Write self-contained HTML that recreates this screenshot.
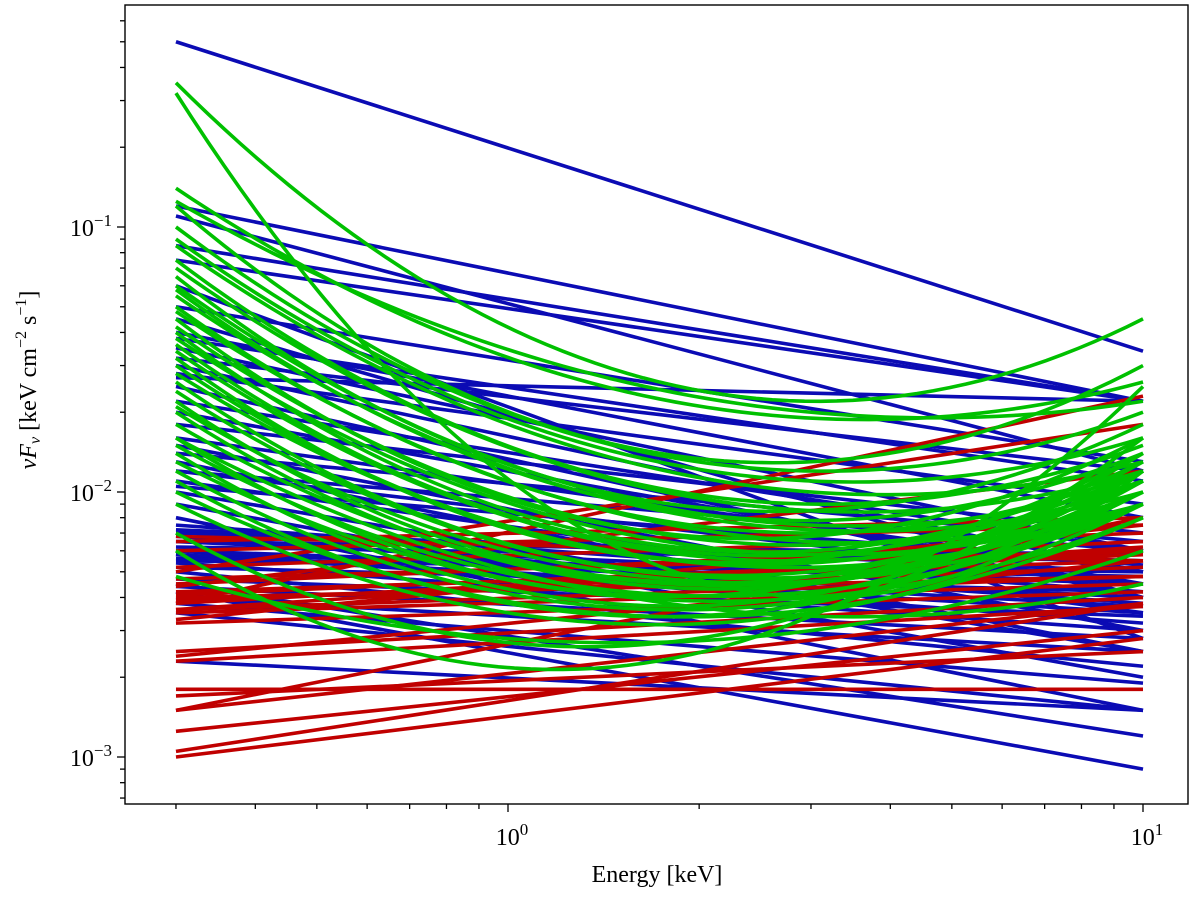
<!DOCTYPE html>
<html><head><meta charset="utf-8"><style>
html,body{margin:0;padding:0;background:#fff;}
svg text{font-family:"Liberation Serif","DejaVu Serif",serif;fill:#000;}
</style></head><body>
<svg id="chart" width="1200" height="899" xmlns="http://www.w3.org/2000/svg">
<defs><clipPath id="clip"><rect x="125" y="5" width="1063" height="799"/></clipPath></defs>
<rect x="0" y="0" width="1200" height="899" fill="#fff"/>
<g id="series" clip-path="url(#clip)"></g>
<rect x="125" y="5" width="1063" height="799" fill="none" stroke="#000" stroke-width="1.4"/>
<g id="axes"></g>
<text x="657" y="882" font-size="24" text-anchor="middle">Energy [keV]</text>
<text transform="translate(36,380) rotate(-90)" font-size="24" text-anchor="middle"><tspan font-style="italic">ν</tspan><tspan font-style="italic">F</tspan><tspan font-style="italic" font-size="16" dy="4">ν</tspan><tspan dy="-4"> [keV cm</tspan><tspan font-size="16" dy="-10">−2</tspan><tspan dy="10"> s</tspan><tspan font-size="16" dy="-10">−1</tspan><tspan dy="10">]</tspan></text>
</svg>
<script>
const xTicks = [1, 10];
const xTickExp = ["0", "1"];
const yTicks = [0.1, 0.01, 0.001];
const yTickExp = ["−1", "−2", "−3"];
const eStart = 0.3, eMid = 3, eEnd = 10;
// blue power laws: flux at 0.3 keV and 10 keV
const blueStart = [0.50,0.12,0.085,0.075,0.11,0.027,0.05,0.04,0.035,0.03,0.025,0.02,0.015,0.013,0.012,0.011,0.010,0.009,0.008,0.0075,0.007,0.006,0.006,0.0055,0.005,0.0045,0.0042,0.0038,0.0035,0.0023,0.06,0.045,0.014,0.0065,0.0058,
  0.0065,0.006,0.0058,0.0056,0.0054,0.0062,0.0052,0.0068,0.0072,0.0047,0.0044,0.004,0.016,0.018,0.022,0.028,0.032,0.038,0.012,0.0105];
const blueEnd   = [0.034,0.022,0.022,0.022,0.012,0.022,0.013,0.008,0.006,0.005,0.004,0.0045,0.003,0.0025,0.006,0.0035,0.0025,0.002,0.0015,0.0042,0.0055,0.0045,0.0032,0.005,0.0022,0.0012,0.0009,0.0019,0.0015,0.0015,0.0028,0.004,0.0065,0.0058,0.0037,
  0.0045,0.004,0.0035,0.0048,0.003,0.0055,0.0042,0.0038,0.005,0.0034,0.0028,0.0025,0.005,0.007,0.006,0.009,0.012,0.011,0.0045,0.0053];
// red power laws
const redStart = [0.0068,0.0065,0.006,0.0052,0.0045,0.0042,0.004,0.0038,0.0035,0.0033,0.0032,0.0025,0.0024,0.0023,0.0018,0.0017,0.0015,0.0015,0.00125,0.00105,0.001,0.0038,0.005,0.0044,0.0036,0.0036,0.0041,0.0047,0.0039];
const redEnd   = [0.0055,0.008,0.0075,0.007,0.0065,0.0055,0.0048,0.006,0.0045,0.0075,0.0042,0.004,0.0055,0.0037,0.0018,0.0025,0.008,0.0038,0.003,0.0038,0.0028,0.023,0.018,0.012,0.0048,0.0062,0.0058,0.006,0.0052];
// green curved models: flux at 0.3, 3 and 10 keV
const greenStart = [0.35,0.32,0.14,0.125,0.12,0.10,0.09,0.085,0.075,0.07,0.065,0.06,0.058,0.055,0.05,0.048,0.045,0.042,0.04,0.038,0.036,0.034,0.032,0.03,0.028,0.026,0.024,0.022,0.021,0.02,0.018,0.016,0.015,0.014,0.013,0.012,0.011,0.010,0.009,0.007,0.0048,0.006,0.016];
const greenMid   = [0.022,0.004,0.019,0.02,0.013,0.012,0.011,0.010,0.009,0.0085,0.0085,0.0075,0.0078,0.0072,0.007,0.0065,0.0068,0.0063,0.006,0.0058,0.0058,0.0055,0.0056,0.0054,0.0052,0.005,0.0048,0.0048,0.0046,0.0045,0.0046,0.0045,0.0042,0.0041,0.004,0.0039,0.0038,0.0036,0.0035,0.0035,0.003,0.0034,0.0034];
const greenEnd   = [0.045,0.012,0.026,0.022,0.030,0.020,0.016,0.013,0.015,0.012,0.018,0.011,0.014,0.010,0.012,0.009,0.016,0.011,0.013,0.009,0.012,0.010,0.014,0.011,0.009,0.012,0.010,0.013,0.009,0.011,0.010,0.014,0.009,0.012,0.008,0.010,0.011,0.008,0.009,0.016,0.006,0.025,0.0045];

const NS = "http://www.w3.org/2000/svg";
function xPos(e){ return 508 + 635*Math.log10(e); }
function yPos(v){ return 227 - 265*(Math.log10(v)+1); }
const series = document.getElementById('series');
const axes = document.getElementById('axes');

function addPath(d, color, name){
  const p = document.createElementNS(NS,'path');
  p.setAttribute('d', d);
  p.setAttribute('stroke', color);
  p.setAttribute('stroke-width', '3.6');
  p.setAttribute('fill', 'none');
  
  
  series.appendChild(p);
}
blueStart.forEach((s,i)=>{
  addPath(`M${xPos(eStart)},${yPos(s)} L${xPos(eEnd)},${yPos(blueEnd[i])}`, '#0b0bb4', 'blue-line-'+i);
});
redStart.forEach((s,i)=>{
  addPath(`M${xPos(eStart)},${yPos(s)} L${xPos(eEnd)},${yPos(redEnd[i])}`, '#c00000', 'red-line-'+i);
});
const l0 = Math.log10(eStart), l1 = Math.log10(eMid), l2 = Math.log10(eEnd);
greenStart.forEach((s,i)=>{
  const y0 = Math.log10(s), y1 = Math.log10(greenMid[i]), y2 = Math.log10(greenEnd[i]);
  let d = '';
  for(let k=0;k<=60;k++){
    const L = l0 + (l2-l0)*k/60;
    const ly = y0*(L-l1)*(L-l2)/((l0-l1)*(l0-l2)) + y1*(L-l0)*(L-l2)/((l1-l0)*(l1-l2)) + y2*(L-l0)*(L-l1)/((l2-l0)*(l2-l1));
    d += (k?'L':'M') + xPos(Math.pow(10,L)) + ',' + yPos(Math.pow(10,ly));
  }
  addPath(d, '#00c000', 'green-curve-'+i);
});

function line(x1,y1,x2,y2,name){
  const l = document.createElementNS(NS,'line');
  l.setAttribute('x1',x1);l.setAttribute('y1',y1);l.setAttribute('x2',x2);l.setAttribute('y2',y2);
  l.setAttribute('stroke','#000');l.setAttribute('stroke-width','1.3');
  
  
  axes.appendChild(l);
}
function label(x,y,base,exp,anchor,name){
  const t = document.createElementNS(NS,'text');
  t.setAttribute('x',x);t.setAttribute('y',y);t.setAttribute('font-size','24');t.setAttribute('text-anchor',anchor);
  t.innerHTML = base + '<tspan font-size="17" dy="-10">'+exp+'</tspan>';
  
  
  axes.appendChild(t);
}
xTicks.forEach((v,i)=>{
  const x = xPos(v);
  line(x,804,x,812,'x-major-tick');
  label(x+4,845,'10',xTickExp[i],'middle','x-tick-label');
});
for(let dec=-1; dec<=1; dec++){
  for(let m=2;m<=9;m++){
    const v = m*Math.pow(10,dec);
    const x = xPos(v);
    if(x>125 && x<1188) line(x,804,x,809,'x-minor-tick');
  }
}
yTicks.forEach((v,i)=>{
  const y = yPos(v);
  line(117,y,125,y,'y-major-tick');
  label(112,y+9,'10',yTickExp[i],'end','y-tick-label');
});
for(let dec=-4; dec<=0; dec++){
  for(let m=2;m<=9;m++){
    const v = m*Math.pow(10,dec);
    const y = yPos(v);
    if(y>5 && y<804) line(120,y,125,y,'y-minor-tick');
  }
}
</script>
</body></html>
